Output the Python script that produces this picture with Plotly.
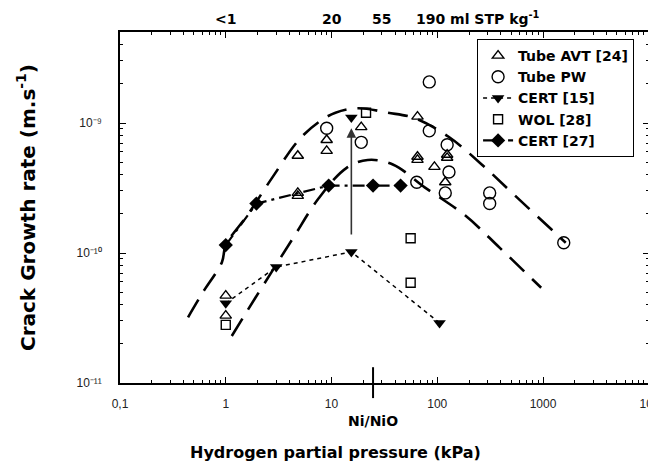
import math
import plotly.graph_objects as go

# Tube AVT [24]  (open triangles)
avt_x = [4.8, 4.8, 4.8, 9.0, 9.0, 19.1, 65, 65, 65, 124, 124, 94, 119, 1.0, 1.0]
avt_y = [5.6e-10, 2.9e-10, 2.75e-10, 7.4e-10, 6.1e-10, 9.3e-10, 1.12e-9, 5.5e-10, 5.2e-10,
         5.7e-10, 5.4e-10, 4.6e-10, 3.5e-10, 4.7e-11, 3.3e-11]

# Tube PW  (open circles)
pw_x = [9.0, 19.1, 84, 84, 124, 129, 119, 64, 313, 313, 1570]
pw_y = [9.1e-10, 7.1e-10, 2.07e-9, 8.7e-10, 6.8e-10, 4.2e-10, 2.9e-10, 3.5e-10, 2.9e-10, 2.4e-10, 1.2e-10]

# CERT [15]  (filled down triangles, dotted)
c15_x = [1.0, 3.0, 15.4, 105]
c15_y = [4.1e-11, 7.8e-11, 1.02e-10, 2.9e-11]
c15_hi_x = [15.4]
c15_hi_y = [1.1e-9]

# WOL [28]  (open squares)
wol_x = [21.2, 56, 56, 1.0]
wol_y = [1.2e-9, 1.3e-10, 5.9e-11, 2.8e-11]

# CERT [27]  (filled diamonds, dash-dot)
c27_x = [1.0, 1.95, 9.4, 24.7, 45]
c27_y = [1.15e-10, 2.4e-10, 3.3e-10, 3.3e-10, 3.3e-10]

# fitted envelopes (long dashed)
upper_x = [0.44, 0.6, 0.92, 1.0, 1.6, 2.75, 4.9, 7.6, 10.9, 17.9, 34, 61, 129, 263, 560, 1640]
upper_y = [3.2e-11, 4.9e-11, 8.5e-11, 1.15e-10, 1.95e-10, 3.8e-10, 7.4e-10, 1.02e-9, 1.2e-9,
           1.3e-9, 1.2e-9, 1.09e-9, 7.8e-10, 4.8e-10, 2.7e-10, 1.2e-10]
lower_x = [1.14, 1.6, 2.7, 4.4, 7.6, 13.8, 22, 38, 76, 183, 388, 960]
lower_y = [2.3e-11, 3.6e-11, 7.1e-11, 1.33e-10, 2.65e-10, 4.5e-10, 5.2e-10, 4.8e-10, 3.2e-10,
           1.95e-10, 1.1e-10, 5.4e-11]

x_ticks = [0.1, 1, 10, 100, 1000, 10000]
x_ticktext = ["0,1", "1", "10", "100", "1000", "10⁴"]
y_ticks = [1e-11, 1e-10, 1e-9]
y_ticktext = ["10⁻¹¹", "10⁻¹⁰", "10⁻⁹"]

# hydrogen content labels on the top axis
top_x = [1, 10, 30]
top_text = ["<1", "20", "55"]
top_unit_x = 60
top_unit_text = "190 ml STP kg<sup>-1</sup>"

ni_nio = 24.7

BOLD = "DejaVu Sans, Arial Black, sans-serif"

fig = go.Figure()

for cx, cy in [(upper_x, upper_y), (lower_x, lower_y)]:
    fig.add_trace(go.Scatter(x=cx, y=cy, mode="lines", showlegend=False,
                             line=dict(color="black", width=2.6, dash="20px,11px", shape="spline")))

fig.add_trace(go.Scatter(x=avt_x, y=avt_y, mode="markers", name="<b>Tube AVT [24]</b>",
                         marker=dict(symbol="triangle-up-open", size=10, color="black",
                                     line=dict(width=1.4, color="black"))))
fig.add_trace(go.Scatter(x=pw_x, y=pw_y, mode="markers", name="<b>Tube PW</b>",
                         marker=dict(symbol="circle-open", size=12, color="black",
                                     line=dict(width=1.4, color="black"))))
fig.add_trace(go.Scatter(x=c15_x, y=c15_y, mode="lines+markers", name="<b>CERT [15]</b>",
                         line=dict(color="black", width=1.5, dash="4px,4px"),
                         marker=dict(symbol="triangle-down", size=11, color="black")))
fig.add_trace(go.Scatter(x=c15_hi_x, y=c15_hi_y, mode="markers", showlegend=False,
                         marker=dict(symbol="triangle-down", size=11, color="black")))
fig.add_trace(go.Scatter(x=wol_x, y=wol_y, mode="markers", name="<b>WOL [28]</b>",
                         marker=dict(symbol="square-open", size=9, color="black",
                                     line=dict(width=1.4, color="black"))))
fig.add_trace(go.Scatter(x=c27_x, y=c27_y, mode="lines+markers", name="<b>CERT [27]</b>",
                         line=dict(color="black", width=2.2, dash="12px,5px,3px,5px"),
                         marker=dict(symbol="diamond", size=11, color="black")))

# arrow from the low CERT [15] point up to the high one (annotation coords are log10 on log axes)
fig.add_annotation(x=math.log10(c15_hi_x[0]), y=-9.04, ax=math.log10(c15_x[2]), ay=-9.87,
                   xref="x", yref="y", axref="x", ayref="y", text="", showarrow=True,
                   arrowhead=2, arrowsize=1.2, arrowwidth=1.6, arrowcolor="#333")

# Ni/NiO equilibrium marker on the bottom axis
fig.add_shape(type="line", x0=ni_nio, x1=ni_nio, y0=0.045, y1=-0.043, xref="x", yref="paper",
              line=dict(color="black", width=2))
fig.add_annotation(x=math.log10(ni_nio), y=-0.107, xref="x", yref="paper", text="<b>Ni/NiO</b>",
                   showarrow=False, yanchor="middle", font=dict(size=14, family=BOLD))

for tx, tt in zip(top_x, top_text):
    fig.add_annotation(x=math.log10(tx), y=1.0, xref="x", yref="paper", text="<b>" + tt + "</b>",
                       showarrow=False, yanchor="bottom", yshift=3, font=dict(size=14, family=BOLD))
fig.add_annotation(x=math.log10(top_unit_x), y=1.0, xref="x", yref="paper",
                   text="<b>" + top_unit_text + "</b>", showarrow=False, xanchor="left",
                   yanchor="bottom", yshift=3, font=dict(size=14, family=BOLD))

# axis titles as annotations (the x title sits left of the plot centre in the original)
fig.add_annotation(x=0.407, y=-0.197, xref="paper", yref="paper",
                   text="<b>Hydrogen partial pressure (kPa)</b>", showarrow=False,
                   xanchor="center", yanchor="middle", font=dict(size=16, family=BOLD))

axis_common = dict(type="log", showline=True, linecolor="black", linewidth=1.5, mirror="allticks",
                   ticks="inside", ticklen=6, tickcolor="black", showgrid=False, zeroline=False,
                   automargin=False, ticklabeloverflow="allow",
                   minor=dict(ticks="inside", ticklen=3, tickcolor="black", dtick="D1", showgrid=False),
                   tickfont=dict(size=12, color="#222"))

fig.update_xaxes(range=[-1, 4.002], tickvals=x_ticks, ticktext=x_ticktext, ticklabelstandoff=9,
                 **axis_common)
fig.update_yaxes(range=[-11, -8.3], tickvals=y_ticks, ticktext=y_ticktext, ticklabelstandoff=14,
                 title=dict(text="<b>Crack Growth rate (m.s<sup>-1</sup>)</b>",
                            font=dict(size=20, family=BOLD), standoff=36),
                 **axis_common)

# page body adds ~8px offset, so the figure is drawn slightly smaller than the window
fig.update_layout(
    width=648, height=462,
    margin=dict(l=112, r=7, t=24, b=87),
    plot_bgcolor="white", paper_bgcolor="white",
    font=dict(family="Liberation Sans, Arial, sans-serif", color="black"),
    legend=dict(x=0.675, y=0.98, xanchor="left", yanchor="top", bgcolor="white",
                bordercolor="black", borderwidth=1, font=dict(size=14, family=BOLD),
                tracegroupgap=0, itemwidth=30),
)

fig.write_html("out.html")
